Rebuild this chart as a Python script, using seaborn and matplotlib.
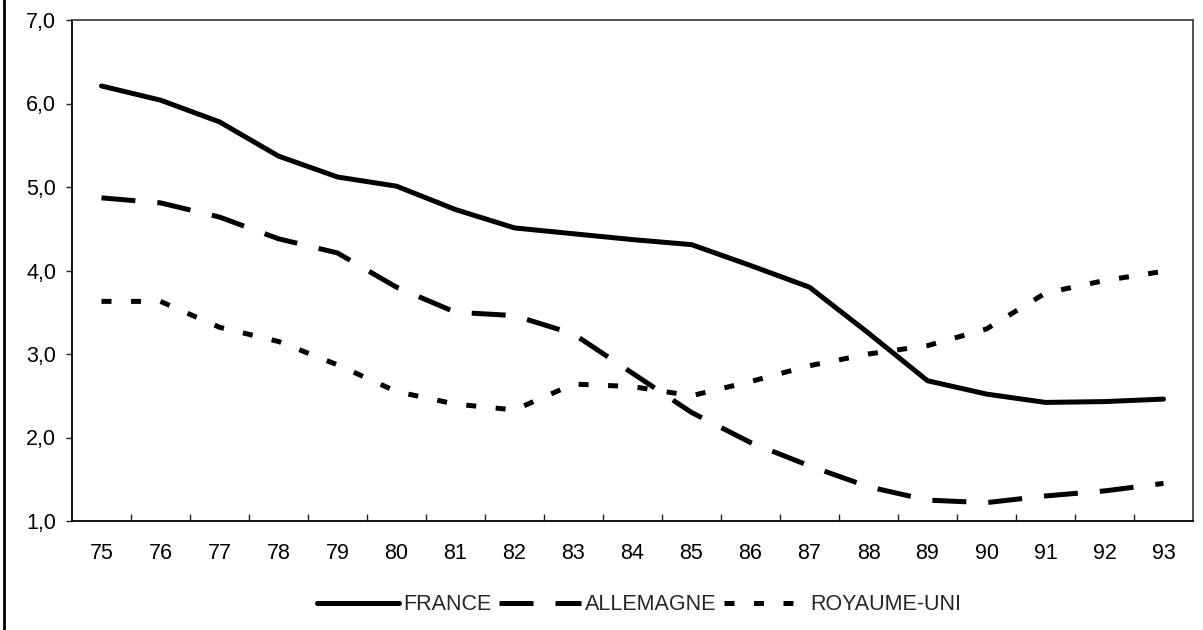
import matplotlib
matplotlib.use("Agg")
import matplotlib.pyplot as plt
from matplotlib.ticker import FixedLocator, FuncFormatter, NullFormatter
from matplotlib.lines import Line2D
import numpy as np
import pandas as pd
import seaborn as sns

years = ["75", "76", "77", "78", "79", "80", "81", "82", "83", "84",
         "85", "86", "87", "88", "89", "90", "91", "92", "93"]
france = [6.21, 6.04, 5.78, 5.37, 5.12, 5.01, 4.73, 4.51, 4.44, 4.37,
          4.31, 4.06, 3.80, 3.25, 2.68, 2.52, 2.42, 2.43, 2.46]
allemagne = [4.87, 4.81, 4.64, 4.38, 4.21, 3.80, 3.50, 3.46, 3.24, 2.77,
             2.30, 1.94, 1.66, 1.41, 1.25, 1.22, 1.30, 1.36, 1.45]
royaume_uni = [3.63, 3.63, 3.32, 3.15, 2.87, 2.55, 2.40, 2.33, 2.64, 2.61,
               2.50, 2.67, 2.86, 3.00, 3.10, 3.30, 3.73, 3.88, 3.99]
series_names = ["FRANCE", "ALLEMAGNE", "ROYAUME-UNI"]
y_ticks = [1.0, 2.0, 3.0, 4.0, 5.0, 6.0, 7.0]

sns.set_theme(style="white")
plt.rcParams["font.family"] = ["Liberation Sans", "DejaVu Sans"]
FS = 15.5

fig = plt.figure(figsize=(12.03, 6.30), dpi=100)
ax = fig.add_axes([72 / 1203, 1 - 521 / 630, (1193 - 72) / 1203, (521 - 20) / 630])

pos = np.arange(len(years))
styles = [
    dict(linestyle="-", solid_capstyle="round", solid_joinstyle="round"),
    dict(linestyle=(0, (6.8, 4.4)), dash_capstyle="butt"),
    dict(linestyle=(0, (2.0, 3.9)), dash_capstyle="butt"),
]
for name, vals, st in zip(series_names, [france, allemagne, royaume_uni], styles):
    df = pd.DataFrame({"pos": pos, "val": vals})
    sns.lineplot(data=df, x="pos", y="val", ax=ax, color="black", linewidth=3.6,
                 label=name, **st)

ax.set_xlim(-0.5, len(years) - 0.5)
ax.set_ylim(1.0, 7.0)
ax.set_xlabel("")
ax.set_ylabel("")

# category labels centred, tick marks on the category boundaries
ax.xaxis.set_major_locator(FixedLocator(pos))
ax.set_xticklabels(years)
ax.xaxis.set_minor_locator(FixedLocator(np.arange(0.5, len(years) - 0.5, 1.0)))
ax.xaxis.set_minor_formatter(NullFormatter())
ax.tick_params(axis="x", which="major", length=0, pad=16, labelsize=FS, colors="black")
ax.tick_params(axis="x", which="minor", bottom=True, direction="in", length=5,
               width=1.0, color="#222222")

ax.yaxis.set_major_locator(FixedLocator(y_ticks))
ax.yaxis.set_major_formatter(FuncFormatter(lambda v, p: f"{v:.1f}".replace(".", ",")))
ax.tick_params(axis="y", which="major", left=True, direction="out", length=4.5,
               width=1.0, pad=7, labelsize=FS, colors="black")
ax.tick_params(axis="y", color="#222222")

for side in ["left", "bottom"]:
    ax.spines[side].set_color("black")
    ax.spines[side].set_linewidth(1.3)
for side in ["top", "right"]:
    ax.spines[side].set_color("#444444")
    ax.spines[side].set_linewidth(1.3)
ax.grid(False)

handles, labels = ax.get_legend_handles_labels()
if ax.legend_:
    ax.legend_.remove()
fig.legend(handles, labels, loc="center", bbox_to_anchor=(639 / 1203, 1 - 605 / 630),
           ncol=3, frameon=False, fontsize=FS, handlelength=3.8, handletextpad=0.2,
           columnspacing=0.35, borderaxespad=0)

# left border of the chart frame
fig.add_artist(Line2D([4 / 1203, 4 / 1203], [0, 1], transform=fig.transFigure,
                      color="black", linewidth=2.0))

fig.savefig("out.png", dpi=100, facecolor="white")
